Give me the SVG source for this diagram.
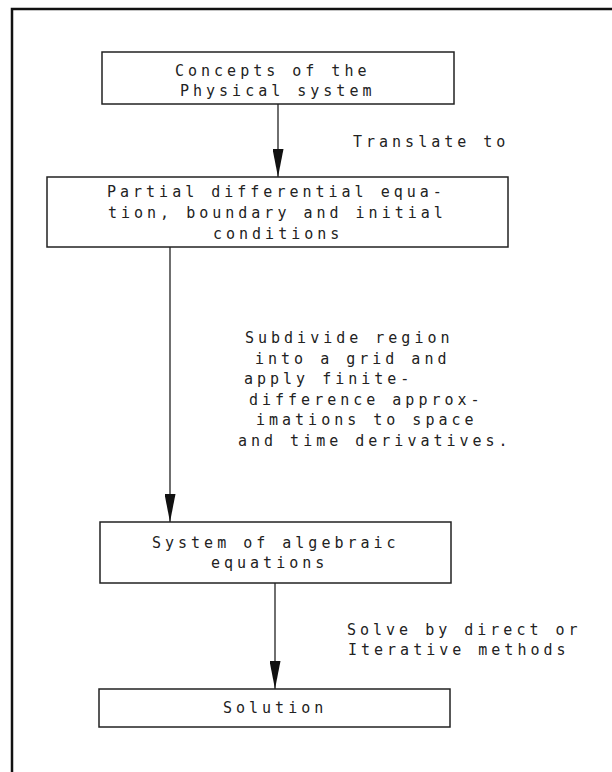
<svg xmlns="http://www.w3.org/2000/svg" width="612" height="772" viewBox="0 0 612 772">
<style>
.box{fill:none;stroke:#222;stroke-width:1.5}
.frame{fill:none;stroke:#111;stroke-width:2.5}
.conn{fill:none;stroke:#222;stroke-width:1.3}
text{font-family:"DejaVu Sans Mono","Liberation Mono",monospace;font-size:15px;letter-spacing:4px;fill:#222}
</style>
<defs>
<marker id="ah" markerUnits="userSpaceOnUse" markerWidth="28" markerHeight="11" viewBox="0 0 28 11" refX="28" refY="5.5" orient="auto">
<path d="M0,0 L28,5.5 L0,11 z" fill="#111"/>
</marker>
</defs>
<rect width="612" height="772" fill="#fff"/>
<g id="frame">
<path class="frame" d="M612,9 L12,9 L12,772"/>
</g>
<g id="connectors">
<line class="conn" x1="278" y1="104" x2="278" y2="177" marker-end="url(#ah)"/>
<line class="conn" x1="170" y1="247" x2="170" y2="522" marker-end="url(#ah)"/>
<line class="conn" x1="275" y1="583" x2="275" y2="689" marker-end="url(#ah)"/>
</g>
<g id="node-concepts">
<rect class="box" x="102" y="52" width="352" height="52"/>
<text x="175" y="76">Concepts of the</text>
<text x="180" y="96">Physical system</text>
</g>
<g id="label-translate">
<text x="353" y="147">Translate to</text>
</g>
<g id="node-pde">
<rect class="box" x="47" y="177" width="461" height="70"/>
<text x="107" y="197">Partial differential equa-</text>
<text x="108" y="218">tion, boundary and initial</text>
<text x="213" y="239">conditions</text>
</g>
<g id="label-subdivide">
<text x="245" y="343">Subdivide region</text>
<text x="255" y="363.5">into a grid and</text>
<text x="244" y="384">apply finite-</text>
<text x="249" y="404.5">difference approx-</text>
<text x="256" y="425">imations to space</text>
<text x="238" y="446">and time derivatives.</text>
</g>
<g id="node-algebraic">
<rect class="box" x="100" y="522" width="351" height="61"/>
<text x="152" y="548">System of algebraic</text>
<text x="211" y="568">equations</text>
</g>
<g id="label-solve">
<text x="347" y="635">Solve by direct or</text>
<text x="348" y="655">Iterative methods</text>
</g>
<g id="node-solution">
<rect class="box" x="99" y="689" width="351" height="38"/>
<text x="223" y="713">Solution</text>
</g>
</svg>
